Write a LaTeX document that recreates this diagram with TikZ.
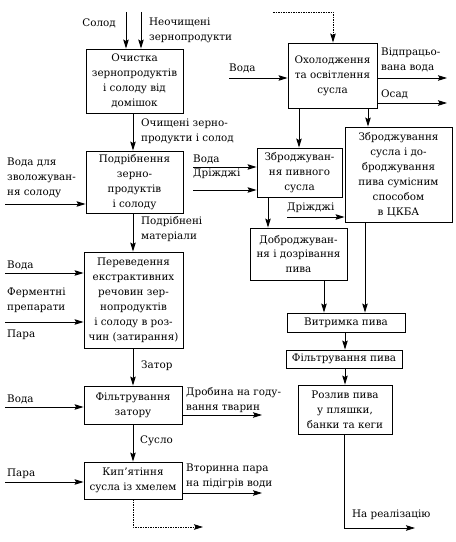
\documentclass[tikz,border=0pt]{standalone}
\usepackage{fontspec}
\setmainfont{DejaVu Serif}
\usetikzlibrary{arrows.meta}
\begin{document}
\begin{tikzpicture}[x=1bp,y=-1bp,
  box/.style={draw, line width=0.9bp, align=center, inner sep=0pt, font=\fontsize{10.4}{15}\selectfont},
  lbl/.style={align=left, inner sep=0pt, font=\fontsize{10.4}{15}\selectfont},
  arr/.style={-{Stealth[length=9bp,width=5.5bp,inset=1.5bp]}, line width=0.8bp},
  dsh/.style={arr, dash pattern=on 1.5bp off 1bp}]
\useasboundingbox (0,0) rectangle (456,542);
% boxes
\node[box, minimum width=97bp, minimum height=64bp] (b1) at (134.5,81) {Очистка\\зернопродуктів\\і солоду від\\домішок};
\node[box, minimum width=97bp, minimum height=62bp] (b2) at (134.5,182) {Подрібнення\\зерно-\\продуктів\\і солоду};
\node[box, minimum width=99bp, minimum height=96bp] (b3) at (133.5,300) {Переведення\\екстрактивних\\речовин зер-\\нопродуктів\\і солоду в роз-\\чин (затирання)};
\node[box, minimum width=98bp, minimum height=38bp] (b4) at (133,405) {Фільтрування\\затору};
\node[box, minimum width=98bp, minimum height=37bp] (b5) at (133,480.5) {Кип’ятіння\\сусла із хмелем};
\node[box, minimum width=89bp, minimum height=65bp] (r1) at (332.5,75.5) {Охолодження\\та освітлення\\сусла};
\node[box, minimum width=85bp, minimum height=49bp] (r2) at (299.5,172.5) {Зброджуван-\\ня пивного\\сусла};
\node[box, minimum width=107bp, minimum height=95bp] (r3) at (398.5,174.5) {Зброджування\\сусла і до-\\броджування\\пива сумісним\\способом\\в ЦКБА};
\node[box, minimum width=97bp, minimum height=52bp] (r4) at (298.5,254) {Доброджуван-\\ня і дозрівання\\пива};
\node[box, minimum width=118bp, minimum height=19bp] (v) at (346,322.5) {Витримка пива};
\node[box, minimum width=116bp, minimum height=18bp] (f) at (344,359) {Фільтрування пива};
\node[box, minimum width=94bp, minimum height=49bp] (p) at (345,409.5) {Розлив пива\\у пляшки,\\банки та кеги};
% labels
\node[lbl, anchor=east] (t1) at (116,23) {Солод};
\node[lbl, anchor=west] (t2) at (149,30) {Неочищені\\зернопродукти};
\node[lbl, anchor=west] (t3) at (141,131) {Очищені зерно-\\продукти і солод};
\node[lbl, anchor=west] (t4) at (7,178) {Вода для\\зволожуван-\\ня солоду};
\node[lbl, anchor=west] (t5) at (141,229.5) {Подрібнені\\матеріали};
\node[lbl, anchor=west] (t6) at (7,265) {Вода};
\node[lbl, anchor=west] (t7) at (7,300) {Ферментні\\препарати};
\node[lbl, anchor=west] (t8) at (7,335) {Пара};
\node[lbl, anchor=west] (t9) at (141,366) {Затор};
\node[lbl, anchor=west] (t10) at (7,399) {Вода};
\node[lbl, anchor=west] (t11) at (186,400.5) {Дробина на году-\\вання тварин};
\node[lbl, anchor=west] (t12) at (140,441) {Сусло};
\node[lbl, anchor=west] (t13) at (7,474) {Пара};
\node[lbl, anchor=west] (t14) at (186,476) {Вторинна пара\\на підігрів води};
\node[lbl, anchor=west] (t15) at (229,68) {Вода};
\node[lbl, anchor=west] (t16) at (381,60) {Відпрацьо-\\вана вода};
\node[lbl, anchor=west] (t17) at (381,94) {Осад};
\node[lbl, anchor=west] (t18) at (193,159) {Вода};
\node[lbl, anchor=west] (t19) at (193,174) {Дріжджі};
\node[lbl, anchor=west] (t20) at (287,208) {Дріжджі};
\node[lbl, anchor=west] (t21) at (352,515) {На реалізацію};
% coordinates
\coordinate (xL) at (133,0);
\coordinate (s0) at (126,12);
\coordinate (n0) at (141,12);
\coordinate (w2) at (5,204);
\coordinate (w3a) at (5,273);
\coordinate (w3b) at (5,322);
\coordinate (w4) at (5,407);
\coordinate (o4) at (262,415);
\coordinate (w5) at (5,482);
\coordinate (o5) at (262,493);
\coordinate (d5) at (203,527);
\coordinate (d0) at (273,12);
\coordinate (x333) at (333,0);
\coordinate (w6) at (229,78);
\coordinate (o6a) at (447,78);
\coordinate (o6b) at (447,103);
\coordinate (x299) at (299,0);
\coordinate (x368) at (368,0);
\coordinate (w7a) at (193,167);
\coordinate (w7b) at (193,190);
\coordinate (w8) at (287,217);
\coordinate (x268) at (268,0);
\coordinate (x324) at (324,0);
\coordinate (x365) at (365,0);
\coordinate (x345) at (345,0);
\coordinate (x344) at (344,0);
\coordinate (e) at (415,528);
% connectors left
\draw[arr] (s0) -- (s0 |- b1.north);
\draw[arr] (n0) -- (n0 |- b1.north);
\draw[arr] (b1.south -| xL) -- (b2.north -| xL);
\draw[arr] (w2) -- (w2 -| b2.west);
\draw[arr] (b2.south -| xL) -- (b3.north -| xL);
\draw[arr] (w3a) -- (w3a -| b3.west);
\draw[arr] (w3b) -- (w3b -| b3.west);
\draw[arr] (b3.south -| xL) -- (b4.north -| xL);
\draw[arr] (w4) -- (w4 -| b4.west);
\draw[arr] (o4 -| b4.east) -- (o4);
\draw[arr] (b4.south -| xL) -- (b5.north -| xL);
\draw[arr] (w5) -- (w5 -| b5.west);
\draw[arr] (o5 -| b5.east) -- (o5);
\draw[dsh] (b5.south -| xL) |- (d5);
% connectors right
\draw[dsh] (d0) -| (r1.north -| x333);
\draw[arr] (w6) -- (w6 -| r1.west);
\draw[arr] (o6a -| r1.east) -- (o6a);
\draw[arr] (o6b -| r1.east) -- (o6b);
\draw[arr] (r1.south -| x299) -- (r2.north -| x299);
\draw[arr] (r1.south -| x368) -- (r3.north -| x368);
\draw[arr] (w7a) -- (w7a -| r2.west);
\draw[arr] (w7b) -- (w7b -| r2.west);
\draw[arr] (w8) -- (w8 -| r3.west);
\draw[arr] (r2.south -| x268) -- (r4.north -| x268);
\draw[arr] (r4.south -| x324) -- (v.north -| x324);
\draw[arr] (r3.south -| x365) -- (v.north -| x365);
\draw[arr] (v.south -| x345) -- (f.north -| x345);
\draw[arr] (f.south -| x345) -- (p.north -| x345);
\draw[arr] (p.south -| x344) |- (e);
\end{tikzpicture}
\end{document}
